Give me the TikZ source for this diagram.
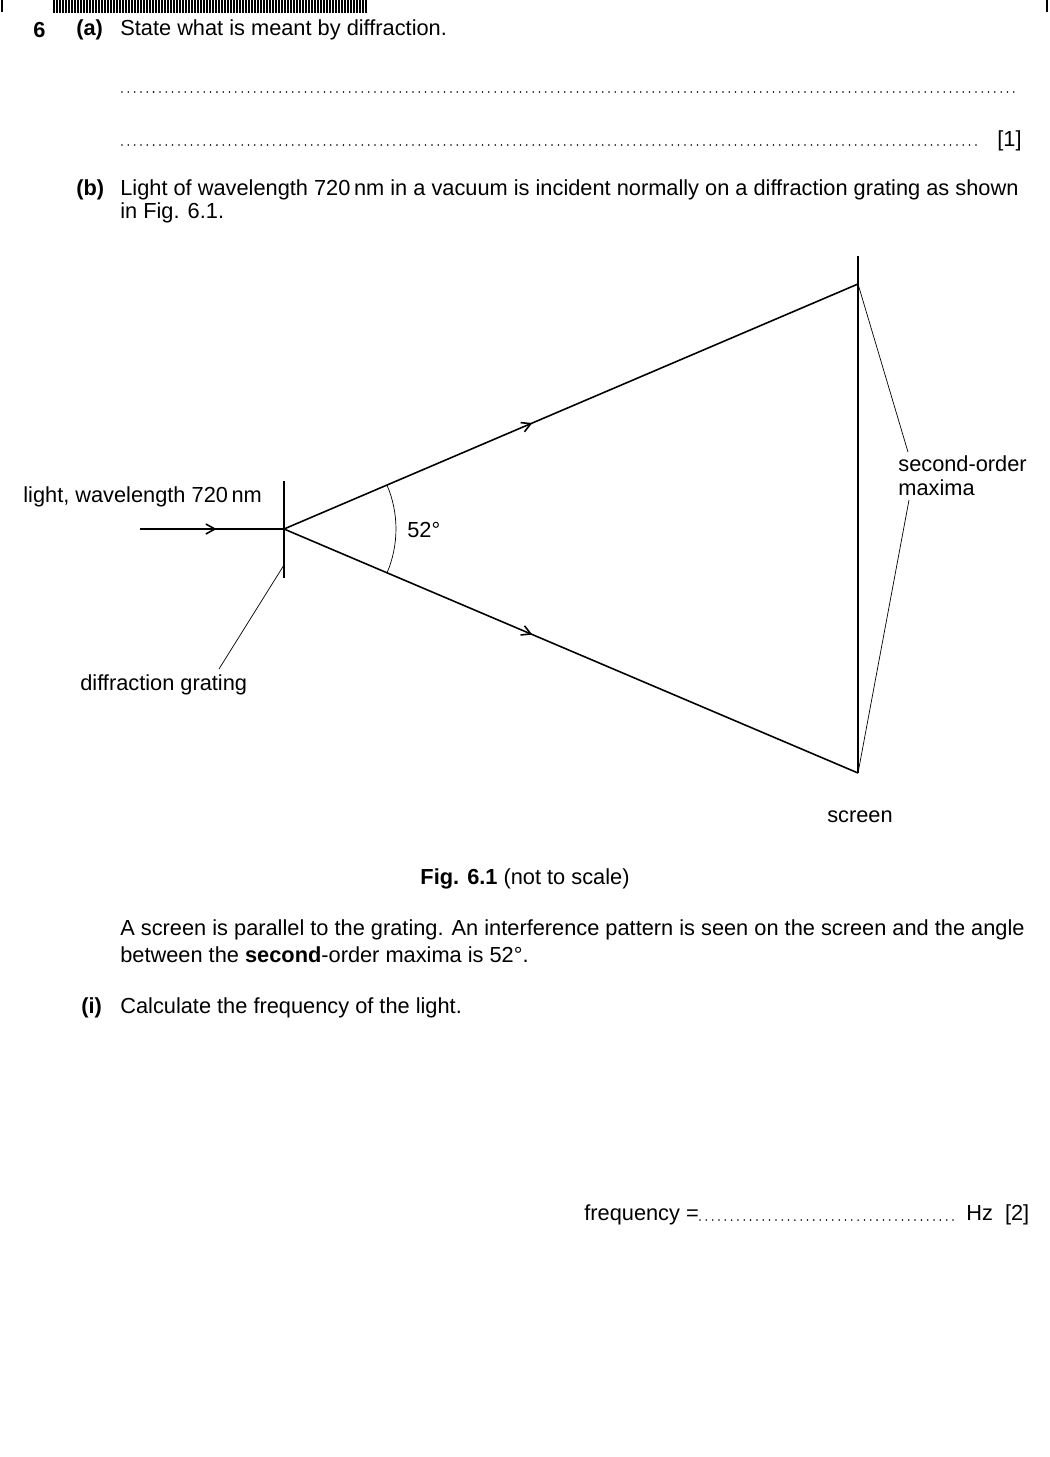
\documentclass[tikz,border=0pt]{standalone}
\usepackage{fontspec}
\setmainfont{Liberation Sans}
\usetikzlibrary{decorations.markings,calc}
\begin{document}
\begin{tikzpicture}[x=0.02cm,y=-0.02cm,
  txt/.style={inner sep=0pt,anchor=west,font=\fontsize{12.4}{14.5}\selectfont},
  bld/.style={txt,font=\bfseries\fontsize{12.4}{14.5}\selectfont},
  ray/.style={line width=0.9pt},
  thin/.style={line width=0.4pt},
  dots/.style={line width=1pt,dash pattern=on 0pt off 3.6pt,line cap=round},
  mid/.style={postaction={decorate},decoration={markings,mark=at position #1 with {\draw[line width=0.9pt] (-9,-5)--(0,0)--(-9,5);}}}]
\useasboundingbox (0,0) rectangle (1050,1457);
% corner marks and barcode
\draw[line width=1.5pt] (2,0)--(2,12);
\draw[line width=1.5pt] (1047,0)--(1047,12);
\foreach \i in {0,...,104} {\pgfmathsetmacro{\w}{mod(\i*7,3)==0?1.6:0.7}
  \draw[line width=\w pt] ({54+\i*3},0)--({54+\i*3},13);}
% header text
\node[bld] (q6) at (33,30) {6};
\node[bld] (qa) at (76,30) {(a)};
\node[txt] (ta) at (120,30) {State what is meant by diffraction.};
\coordinate (d1a) at (122,92); \coordinate (d1b) at (1018,92);
\draw[dots] (d1a)--(d1b);
\coordinate (d2a) at (122,145); \coordinate (d2b) at (980,145);
\draw[dots] (d2a)--(d2b);
\node[txt] (m1) at (997,141) {[1]};
\node[bld] (qb) at (76,190) {(b)};
\node[txt] (tb1) at (120,190) {Light of wavelength 720\,nm in a vacuum is incident normally on a diffraction grating as shown};
\node[txt] (tb2) at (120,213) {in Fig. 6.1.};
% figure
\coordinate (G) at (284,529);
\coordinate (Gt) at (284,481);
\coordinate (Gb) at (284,578);
\coordinate (S) at (140,529);
\coordinate (T) at (858,284);
\coordinate (B) at (858,773);
\coordinate (St) at (858,256);
\draw[line width=1.5pt] (Gt)--(Gb);
\draw[ray,mid=0.52] (S)--(G);
\draw[ray,mid=0.43] (G)--(T);
\draw[ray,mid=0.43] (G)--(B);
\draw[ray] (St)--(B);
\draw[thin] ($(G)!2.24cm!(T)$) arc[start angle=23.1,end angle=-23.1,radius=2.24cm];
\node[txt] (ang) at (407,530) {52°};
\node[txt] (lab1) at (23,497) {light, wavelength 720\,nm};
\node[txt] (lab2) at (80,685) {diffraction grating};
\coordinate (gl) at (284,565);
\coordinate (gl2) at (219,669);
\draw[thin] (gl)--(gl2);
\node[txt] (so) at (898,464) {second-order};
\node[txt] (mx) at (898,488) {maxima};
\coordinate (m1a) at (908,452);
\coordinate (m2a) at (909,500);
\draw[thin] (T)--(m1a);
\draw[thin] (B)--(m2a);
\node[txt,anchor=center] (scr) at (860,817) {screen};
\node[txt,anchor=center] (cap) at (525,879) {\textbf{Fig. 6.1} (not to scale)};
\node[txt] (p1) at (120,930) {A screen is parallel to the grating. An interference pattern is seen on the screen and the angle};
\node[txt] (p2) at (120,955) {between the \textbf{second}-order maxima is 52°.};
\node[bld] (qi) at (81,1008) {(i)};
\node[txt] (ti) at (120,1008) {Calculate the frequency of the light.};
\node[txt] (fq) at (584,1215) {frequency =};
\coordinate (f1) at (700,1220); \coordinate (f2) at (958,1220);
\draw[dots] (f1)--(f2);
\node[txt] (hz) at (966,1215) {Hz\ \ [2]};
\end{tikzpicture}
\end{document}
